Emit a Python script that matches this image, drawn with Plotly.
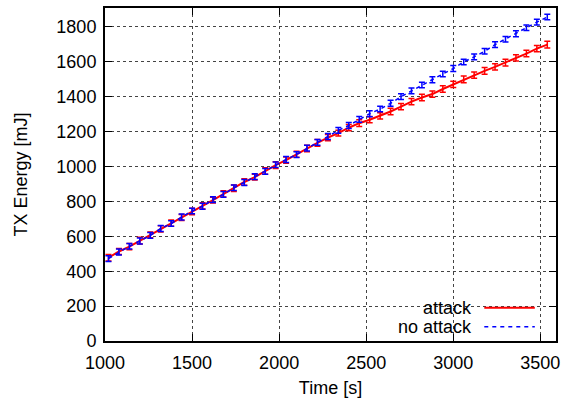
import plotly.graph_objects as go

time_s = [1020, 1080, 1140, 1200, 1260, 1320, 1380, 1440, 1500, 1560, 1620,
          1680, 1740, 1800, 1860, 1920, 1980, 2040, 2100, 2160, 2220, 2280,
          2340, 2400, 2460, 2520, 2580, 2640, 2700, 2760, 2820, 2880, 2940,
          3000, 3060, 3120, 3180, 3240, 3300, 3360, 3420, 3480, 3540]

attack = [477, 513, 541, 575, 608, 642, 676, 708, 742, 774, 807,
          843, 875, 911, 939, 974, 1008, 1036, 1070, 1103, 1135, 1165,
          1191, 1222, 1248, 1268, 1290, 1315, 1343, 1372, 1395, 1415, 1444,
          1470, 1499, 1524, 1548, 1571, 1595, 1622, 1647, 1675, 1698]
attack_err = [18, 17, 18, 19, 17, 18, 18, 17, 19, 18, 17,
              18, 19, 18, 17, 18, 19, 18, 17, 18, 19, 18,
              17, 18, 19, 18, 18, 19, 18, 18, 19, 18, 19,
              18, 19, 18, 19, 18, 19, 18, 19, 18, 19]

no_attack = [472, 510, 543, 573, 605, 645, 673, 710, 745, 772, 810,
             840, 878, 908, 942, 972, 1010, 1040, 1068, 1105, 1138, 1172,
             1207, 1235, 1270, 1302, 1329, 1362, 1400, 1433, 1467, 1497, 1530,
             1561, 1599, 1628, 1660, 1698, 1729, 1760, 1795, 1827, 1856]
no_attack_err = [16, 17, 16, 17, 16, 17, 16, 17, 16, 17, 16,
                 17, 16, 17, 16, 17, 16, 17, 16, 17, 16, 17,
                 16, 17, 16, 17, 16, 17, 16, 17, 16, 17, 16,
                 17, 16, 17, 16, 17, 16, 17, 16, 17, 16]

series_names = ["attack", "no attack"]
x_ticks = [1000, 1500, 2000, 2500, 3000, 3500]
y_ticks = [0, 200, 400, 600, 800, 1000, 1200, 1400, 1600, 1800]

FONT = "Liberation Sans, Arial, Helvetica, sans-serif"
FS = 18
RED = "#ff0000"
BLUE = "#0000ff"

fig = go.Figure()
fig.add_trace(go.Scatter(
    x=time_s, y=attack, mode="lines", name=series_names[0],
    line=dict(color=RED, width=2),
    error_y=dict(type="data", array=attack_err, color=RED, thickness=1.5, width=3),
    showlegend=False))
fig.add_trace(go.Scatter(
    x=time_s, y=no_attack, mode="lines", name=series_names[1],
    line=dict(color=BLUE, width=1.5, dash="4px,4px"),
    error_y=dict(type="data", array=no_attack_err, color=BLUE, thickness=1.5, width=3),
    showlegend=False))

axis_common = dict(
    showline=True, linecolor="black", linewidth=2, mirror="ticks",
    ticks="inside", ticklen=7, tickwidth=1, tickcolor="black",
    showgrid=True, gridcolor="#444444", gridwidth=1, griddash="dot",
    zeroline=False,
    tickfont=dict(family=FONT, size=FS, color="black"),
)

fig.update_layout(
    width=566, height=402,
    margin=dict(l=105, r=8, t=6, b=61),
    paper_bgcolor="white", plot_bgcolor="white",
    font=dict(family=FONT, size=FS, color="black"),
    xaxis=dict(range=[1000, 3590], tickvals=x_ticks, ticklabelstandoff=4,
               title=dict(text="Time [s]", font=dict(family=FONT, size=FS), standoff=10),
               **axis_common),
    yaxis=dict(range=[0, 1908], tickvals=y_ticks, ticklabelstandoff=3,
               title=dict(text="TX Energy [mJ]", font=dict(family=FONT, size=FS), standoff=24),
               **axis_common),
)

# gnuplot-style legend: label text, then line sample to the right
legend_rows = [(series_names[0], RED, "solid", 0.1), (series_names[1], BLUE, "dash", 0.043)]
for name, color, dash, ypos in legend_rows:
    fig.add_annotation(x=0.818, y=ypos, xref="paper", yref="paper", text=name,
                       showarrow=False, xanchor="right", yanchor="middle",
                       font=dict(family=FONT, size=FS, color="black"))
    fig.add_shape(type="line", xref="paper", yref="paper",
                  x0=0.841, x1=0.953, y0=ypos, y1=ypos,
                  line=dict(color=color, width=2 if dash == "solid" else 1.5,
                            dash="solid" if dash == "solid" else "4px,4px"))

fig.write_html("out.html")
